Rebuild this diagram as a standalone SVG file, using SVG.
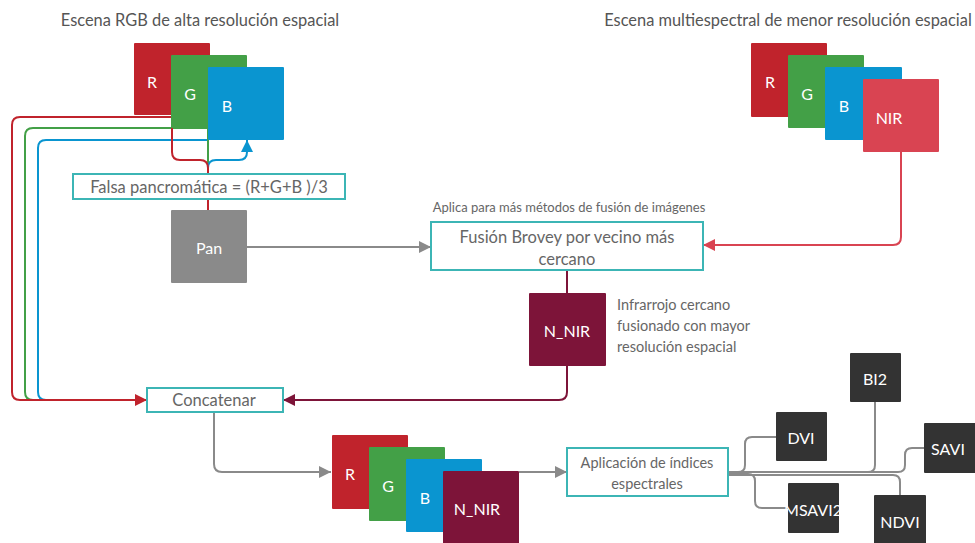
<svg xmlns="http://www.w3.org/2000/svg" width="975" height="543" viewBox="0 0 975 543">
<style>
text{font-family:Lato,"Open Sans","Liberation Sans",sans-serif}
.t{font-size:16.4px;fill:#555;text-anchor:middle}
.lb{font-size:16px;fill:#fff;text-anchor:middle;dominant-baseline:central}
.bx{font-size:16.5px;fill:#666;text-anchor:middle}
.tb{fill:#fff;stroke:#3cb5b5;stroke-width:2}
.c{fill:none;stroke-width:2}
.r{fill:#c0232c}.g{fill:#43a047}.b{fill:#0a95d0}.nir{fill:#d94452}.nn{fill:#7d1439}.p{fill:#8a8a8a}.d{fill:#333}
</style>
<defs>
<marker id="aR" viewBox="0 0 10 10" refX="10" refY="5" markerWidth="12" markerHeight="12" markerUnits="userSpaceOnUse" orient="auto"><path d="M0,0L10,5L0,10z" fill="#c0232c"/></marker>
<marker id="aB" viewBox="0 0 10 10" refX="10" refY="5" markerWidth="12" markerHeight="12" markerUnits="userSpaceOnUse" orient="auto"><path d="M0,0L10,5L0,10z" fill="#0a95d0"/></marker>
<marker id="aG" viewBox="0 0 10 10" refX="10" refY="5" markerWidth="12" markerHeight="12" markerUnits="userSpaceOnUse" orient="auto"><path d="M0,0L10,5L0,10z" fill="#8a8a8a"/></marker>
<marker id="aN" viewBox="0 0 10 10" refX="10" refY="5" markerWidth="12" markerHeight="12" markerUnits="userSpaceOnUse" orient="auto"><path d="M0,0L10,5L0,10z" fill="#d94452"/></marker>
<marker id="aM" viewBox="0 0 10 10" refX="10" refY="5" markerWidth="12" markerHeight="12" markerUnits="userSpaceOnUse" orient="auto"><path d="M0,0L10,5L0,10z" fill="#7d1439"/></marker>
</defs>
<rect width="975" height="543" fill="#fff"/>
<text class="t" x="200" y="26">Escena RGB de alta resolución espacial</text>
<text class="t" x="788" y="26">Escena multiespectral de menor resolución espacial</text>
<text x="569" y="212" style="font-size:13px;fill:#666;text-anchor:middle">Aplica para más métodos de fusión de imágenes</text>
<text style="font-size:14.5px;fill:#666"><tspan x="617" y="310">Infrarrojo cercano</tspan><tspan x="617" y="331">fusionado con mayor</tspan><tspan x="617" y="352">resolución espacial</tspan></text>

<g id="connectors">
<path class="c" stroke="#43a047" d="M208 128H33Q25 128 25 136V392Q25 400 33 400H60"/>
<path class="c" stroke="#0a95d0" d="M208 140H46Q38 140 38 148V392Q38 400 46 400H60"/>
<path class="c" stroke="#c0232c" d="M172 117H20Q12 117 12 125V392Q12 400 20 400H147" marker-end="url(#aR)"/>
<path class="c" stroke="#43a047" d="M208 128V174"/>
<path class="c" stroke="#0a95d0" d="M208 174V168Q208 160 216 160H239Q247 160 247 152V140" marker-end="url(#aB)"/>
<path class="c" stroke="#c0232c" d="M172 117V152Q172 160 180 160H200Q208 160 208 168V210"/>
<path class="c" stroke="#8a8a8a" d="M247 247H431" marker-end="url(#aG)"/>
<path class="c" stroke="#d94452" d="M901 152V237Q901 245 893 245H703" marker-end="url(#aN)"/>
<path class="c" stroke="#7d1439" d="M567 270V293"/>
<path class="c" stroke="#7d1439" d="M567 366V392Q567 400 559 400H283" marker-end="url(#aM)"/>
<path class="c" stroke="#8a8a8a" d="M214 412V464Q214 472 222 472H331" marker-end="url(#aG)"/>
<path class="c" stroke="#8a8a8a" d="M519 472H567" marker-end="url(#aG)"/>
<path class="c" stroke="#8a8a8a" d="M728 472H738Q745 472 745 465V444Q745 437 752 437H776"/>
<path class="c" stroke="#8a8a8a" d="M728 474H748Q755 474 755 481V501Q755 508 762 508H790"/>
<path class="c" stroke="#8a8a8a" d="M728 472H868Q875 472 875 465V402"/>
<path class="c" stroke="#8a8a8a" d="M728 472H898Q905 472 905 465V455Q905 448 912 448H924"/>
<path class="c" stroke="#8a8a8a" d="M728 475H893Q900 475 900 482V495"/>
</g>

<g id="rgb-top">
<g id="R1"><rect class="r" x="134" y="43" width="76" height="72" rx="1"/><text class="lb" x="152" y="81">R</text></g>
<g id="G1"><rect class="g" x="171" y="55" width="76" height="73" rx="1"/><text class="lb" x="190" y="93">G</text></g>
<g id="B1"><rect class="b" x="208" y="67" width="76" height="73" rx="1"/><text class="lb" x="227" y="105">B</text></g>
</g>
<g id="ms-top">
<g id="R2"><rect class="r" x="751" y="43" width="76" height="74" rx="1"/><text class="lb" x="770" y="81">R</text></g>
<g id="G2"><rect class="g" x="788" y="55" width="76" height="73" rx="1"/><text class="lb" x="807" y="93">G</text></g>
<g id="B2"><rect class="b" x="825" y="67" width="77" height="73" rx="1"/><text class="lb" x="844" y="105">B</text></g>
<g id="NIR"><rect class="nir" x="863" y="79" width="76" height="73" rx="1"/><text class="lb" x="889" y="117">NIR</text></g>
</g>
<g id="falsa"><rect class="tb" x="73" y="174" width="272" height="25"/><text class="bx" x="209" y="193">Falsa pancromática = (R+G+B )/3</text></g>
<g id="pan"><rect class="p" x="171" y="210" width="76" height="73" rx="1"/><text class="lb" x="209" y="247">Pan</text></g>
<g id="fusion"><rect class="tb" x="431" y="222" width="272" height="48"/><text class="bx" x="567" y="243">Fusión Brovey por vecino más</text><text class="bx" x="567" y="265">cercano</text></g>
<g id="nnir"><rect class="nn" x="529" y="293" width="77" height="73" rx="1"/><text class="lb" x="567" y="330">N_NIR</text></g>
<g id="concat"><rect class="tb" x="147" y="388" width="136" height="24"/><text class="bx" x="214" y="406">Concatenar</text></g>
<g id="stack-bottom">
<g id="R3"><rect class="r" x="332" y="435" width="76" height="74" rx="1"/><text class="lb" x="350" y="473">R</text></g>
<g id="G3"><rect class="g" x="369" y="447" width="76" height="74" rx="1"/><text class="lb" x="388" y="485">G</text></g>
<g id="B3"><rect class="b" x="406" y="459" width="76" height="73" rx="1"/><text class="lb" x="425" y="497">B</text></g>
<g id="N3"><rect class="nn" x="443" y="471" width="76" height="75" rx="1"/><text class="lb" x="477" y="508">N_NIR</text></g>
</g>
<g id="aplic"><rect class="tb" x="567" y="448" width="161" height="48"/><text style="font-size:14.5px;fill:#666;text-anchor:middle" x="647" y="468">Aplicación de índices</text><text style="font-size:14.5px;fill:#666;text-anchor:middle" x="647" y="489">espectrales</text></g>
<g id="dvi"><rect class="d" x="776" y="412" width="51" height="49" rx="1"/><text class="lb" x="801" y="437">DVI</text></g>
<g id="bi2"><rect class="d" x="850" y="353" width="51" height="49" rx="1"/><text class="lb" x="875" y="378">BI2</text></g>
<g id="savi"><rect class="d" x="924" y="423" width="53" height="50" rx="1"/><text class="lb" x="948" y="448">SAVI</text></g>
<g id="msavi2"><rect class="d" x="788" y="483" width="51" height="50" rx="1"/><text class="lb" x="813" y="509">MSAVI2</text></g>
<g id="ndvi"><rect class="d" x="874" y="495" width="52" height="50" rx="1"/><text class="lb" x="900" y="521">NDVI</text></g>
</svg>
